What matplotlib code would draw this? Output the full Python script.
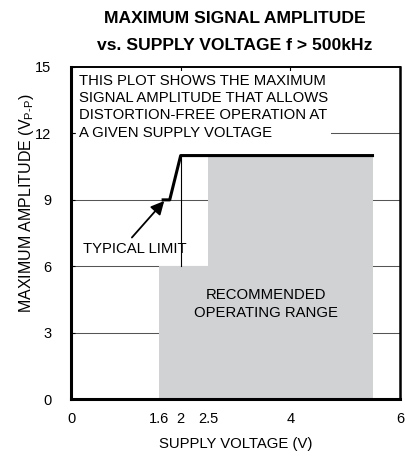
import matplotlib
matplotlib.use('agg')
import matplotlib.pyplot as plt
from matplotlib.patches import Polygon

# typical limit curve
volt = [1.68, 1.8, 2.0, 5.5]
amp = [9, 9, 11, 11]

# recommended operating range outline
range_v = [1.6, 5.5, 5.5, 2.5, 2.5, 1.6]
range_a = [0, 0, 11, 11, 6, 6]

xticks = [0, 1.6, 2, 2.5, 4, 6]
xtick_labels = ['0', '1.6', '2', '2.5', '4', '6']
yticks = [0, 3, 6, 9, 12, 15]

plt.rcParams['font.family'] = ['Liberation Sans', 'DejaVu Sans']
plt.rcParams['mathtext.fontset'] = 'custom'
plt.rcParams['mathtext.rm'] = 'Liberation Sans'

fig = plt.figure(figsize=[4.06, 4.62], dpi=100)
ax = fig.add_axes([0.175, 0.136, 0.81, 0.719])

for y in yticks[1:-1]:
    ax.axhline(y, color='#555555', lw=0.75, zorder=1)

ax.add_patch(Polygon(list(zip(range_v, range_a)), closed=True,
                     facecolor='#d1d2d4', edgecolor='none', zorder=2))
ax.plot([2, 2], [6, 11], color='k', lw=0.8, zorder=3)
ax.plot(volt, amp, 'k-', lw=2.2, zorder=4)

ax.text(0.146, 14.7, 'THIS PLOT SHOWS THE MAXIMUM\nSIGNAL AMPLITUDE THAT ALLOWS\n'
        'DISTORTION-FREE OPERATION AT\nA GIVEN SUPPLY VOLTAGE',
        fontsize=10.7, va='top', ha='left', linespacing=1.3, zorder=5,
        bbox=dict(facecolor='white', edgecolor='none', pad=2))
ax.text(3.56, 4.3, 'RECOMMENDED\nOPERATING RANGE', fontsize=10.7, ha='center', va='center',
        linespacing=1.3, zorder=5)
ax.text(1.167, 6.78, 'TYPICAL LIMIT', fontsize=10.7, ha='center', va='center', zorder=5)
ax.annotate('', xy=(1.70, 8.95), xytext=(1.11, 7.3), zorder=5,
            arrowprops=dict(arrowstyle='-|>', color='k', lw=1.3, mutation_scale=20,
                            shrinkA=0, shrinkB=0))

ax.set_xlim(0, 6)
ax.set_ylim(0, 15)
ax.set_xticks(xticks)
ax.set_xticklabels(xtick_labels)
ax.set_yticks(yticks)
ax.tick_params(axis='x', length=0, pad=9, labelsize=10.5)
ax.tick_params(axis='y', direction='in', length=3, pad=14, labelsize=10.5)
top = ax.secondary_xaxis('top')
top.set_xticks([2, 4])
top.tick_params(direction='in', length=4, labeltop=False)

for side, w in [('left', 2.2), ('bottom', 2.2), ('top', 1.4), ('right', 1.8)]:
    ax.spines[side].set_linewidth(w)
    ax.spines[side].set_zorder(6)
top.spines['top'].set_visible(False)

ax.set_xlabel('SUPPLY VOLTAGE (V)', fontsize=10.7, labelpad=8)
ax.text(-0.135, 0.59, 'MAXIMUM AMPLITUDE (V$_{\\mathrm{P\\text{-}P}}$)', fontsize=11.5,
        rotation=90, ha='center', va='center', transform=ax.transAxes)
fig.text(0.579, 0.950, 'MAXIMUM SIGNAL AMPLITUDE', fontsize=12.6, fontweight='bold',
         ha='center', va='baseline')
fig.text(0.579, 0.892, 'vs. SUPPLY VOLTAGE f > 500kHz', fontsize=12.6, fontweight='bold',
         ha='center', va='baseline')

plt.savefig('out.png', dpi=100)
